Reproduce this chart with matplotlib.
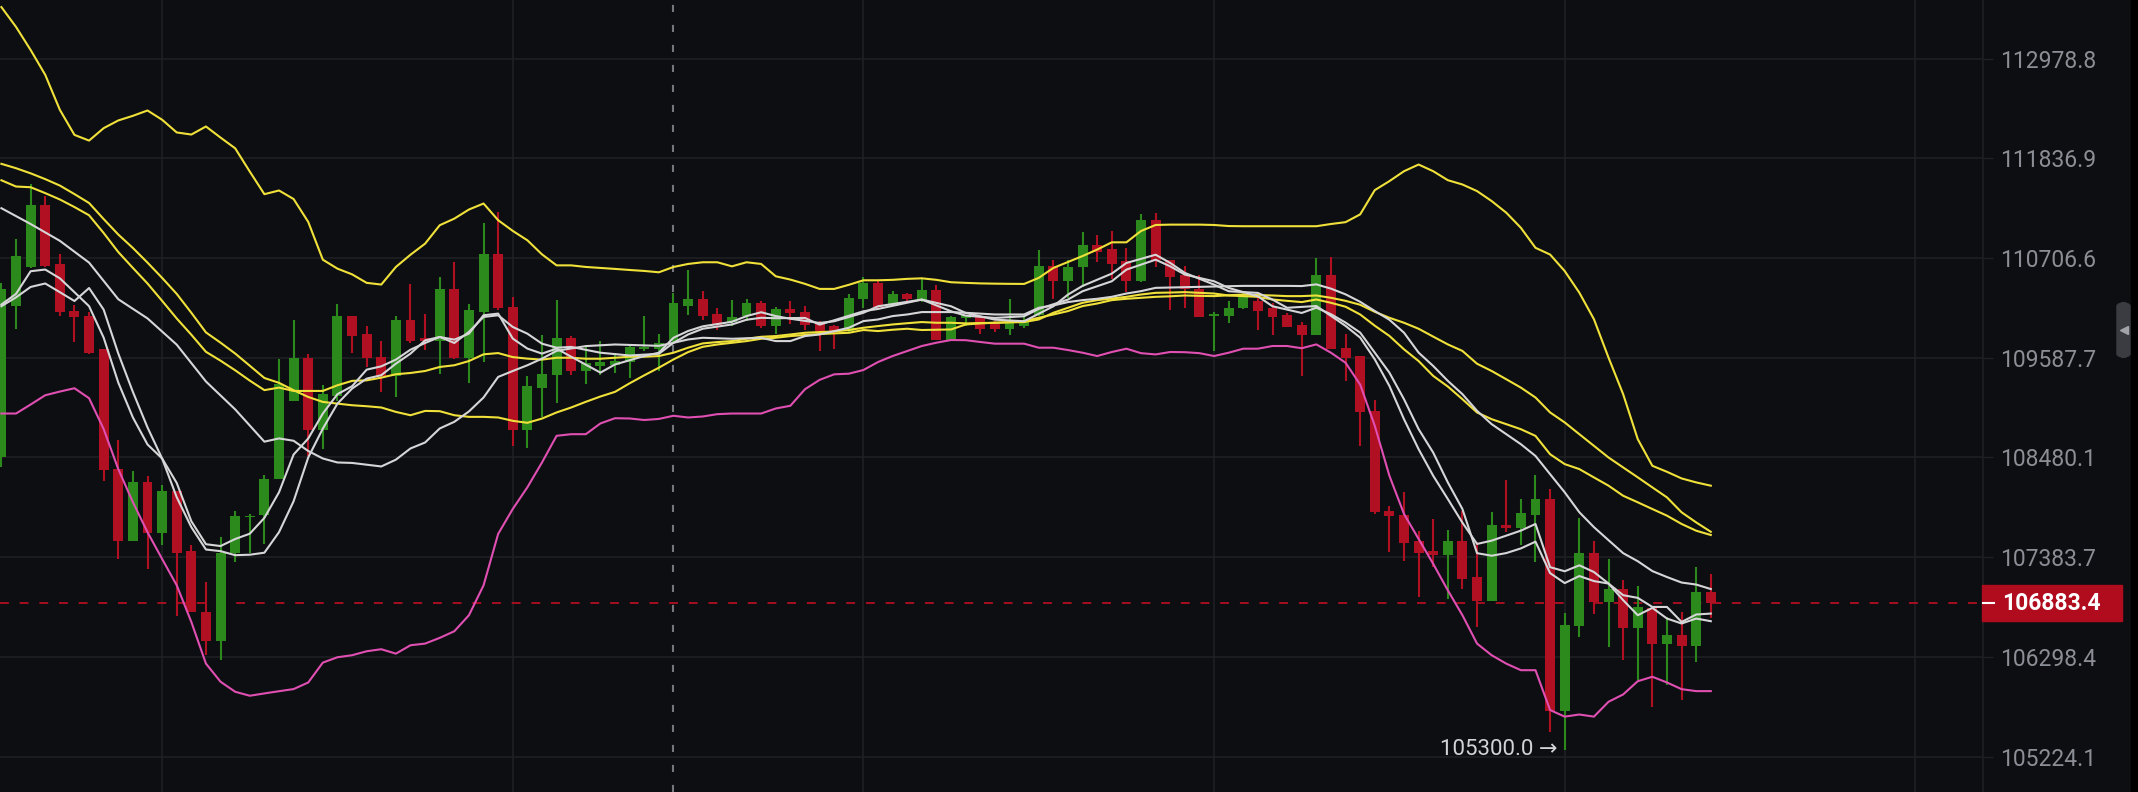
import matplotlib
matplotlib.use("Agg")
import matplotlib.pyplot as plt
from matplotlib.patches import Rectangle, FancyBboxPatch
from matplotlib.lines import Line2D
from matplotlib.ticker import FixedLocator, NullLocator, FuncFormatter
import numpy as np

# ---- candles (BTC-like, 118 bars) ----
opens = [108480, 110170, 110600, 111310, 110640, 110110, 110060, 109680, 108350, 107560,
         108210, 107650, 108110, 107450, 106790, 106470, 107430, 107820, 107850, 108240,
         109110, 109580, 108780, 109160, 110050, 109850, 109600, 109380, 110010, 109810,
         109780, 110360, 109590, 110100, 110750, 110160, 108780, 109250, 109390, 109810,
         109440, 109500, 109510, 109540, 109680, 109690, 109770, 110170, 110240, 110080,
         109990, 110060, 110200, 109940, 110130, 110100, 109970, 109940, 109890, 110250,
         110420, 110170, 110300, 110230, 110350, 109790, 110030, 110060, 109970, 109910,
         109940, 110070, 110620, 110450, 110610, 110850, 110810, 110670, 110450, 111140,
         110690, 110510, 110360, 110050, 110060, 110140, 110220, 110140, 110070, 109950,
         109840, 110510, 109700, 109610, 108990, 107890, 107850, 107560, 107450, 107410,
         107560, 107170, 106910, 107740, 107700, 107850, 108020, 105710, 106630, 107430,
         106890, 107040, 106610, 106830, 106440, 106540, 106420, 107000]
highs = [110420, 110920, 111550, 111410, 110750, 110180, 110100, 109680, 108670, 108330,
         108280, 108180, 108110, 107520, 107110, 107600, 107890, 107860, 108290, 109570,
         110010, 109630, 109280, 110190, 110050, 109940, 109780, 110060, 110410, 110080,
         110490, 110660, 110190, 111100, 111230, 110270, 109380, 109840, 110230, 109830,
         109730, 109770, 109640, 109720, 110060, 109850, 110310, 110570, 110340, 110140,
         110230, 110240, 110220, 110160, 110220, 110170, 110000, 109950, 110300, 110490,
         110450, 110330, 110310, 110470, 110400, 110060, 110070, 110060, 110000, 110240,
         110060, 110800, 110680, 110680, 111000, 110970, 111010, 110820, 111200, 111220,
         110690, 110620, 110510, 110100, 110220, 110330, 110280, 110200, 110090, 109990,
         110710, 110720, 109850, 109610, 109120, 107950, 108100, 107670, 107800, 107680,
         107890, 107550, 107880, 108230, 108020, 108290, 108130, 106770, 107810, 107560,
         107360, 107130, 107070, 106830, 106730, 106790, 107280, 107200]
lows = [108370, 109910, 110590, 110600, 110060, 109760, 109630, 108220, 107360, 107560,
        107250, 107520, 106740, 106790, 106320, 106260, 107330, 107430, 107530, 108240,
        109110, 108500, 108570, 109110, 109640, 109490, 109210, 109150, 109750, 109670,
        109410, 109570, 109310, 109540, 110120, 108610, 108590, 108930, 109080, 109400,
        109290, 109400, 109420, 109360, 109660, 109440, 109740, 110070, 110010, 109900,
        109940, 110000, 109920, 109850, 109970, 109900, 109660, 109690, 109870, 110150,
        110150, 110170, 110200, 110210, 109790, 109790, 109940, 109850, 109880, 109840,
        109920, 110060, 110240, 110260, 110380, 110660, 110470, 110320, 110440, 110610,
        110120, 110150, 110040, 109660, 109980, 110130, 109900, 109840, 109930, 109380,
        109840, 109690, 109330, 108610, 107860, 107440, 107340, 106950, 107280, 106930,
        107040, 106620, 106910, 107660, 107520, 107330, 105490, 105300, 106510, 106760,
        106410, 106260, 106050, 105760, 105990, 105830, 106240, 106720]
closes = [110360, 110730, 111310, 110620, 110100, 110040, 109640, 108340, 107560, 108210,
          107650, 108110, 107430, 106790, 106470, 107430, 107840, 107840, 108240, 109290,
          109580, 108780, 109180, 110050, 109830, 109590, 109380, 110010, 109780, 109770,
          110360, 109590, 110120, 110750, 110140, 108780, 109270, 109410, 109810, 109440,
          109530, 109540, 109550, 109710, 109710, 109750, 110200, 110240, 110060, 109950,
          110040, 110200, 109940, 110130, 110090, 109950, 109890, 109890, 110260, 110420,
          110160, 110300, 110240, 110350, 109790, 110040, 110070, 109910, 109910, 109990,
          109990, 110620, 110450, 110610, 110850, 110780, 110640, 110450, 111140, 110690,
          110490, 110360, 110040, 110080, 110150, 110270, 110110, 110040, 109930, 109840,
          110510, 109690, 109590, 108980, 107880, 107830, 107540, 107430, 107410, 107560,
          107150, 106910, 107740, 107700, 107870, 108020, 105710, 106650, 107430, 106900,
          107040, 106610, 106840, 106440, 106540, 106420, 107000, 106883.4]

# ---- Bollinger bands ----
boll_upper = [113573, 113344, 113078, 112792, 112391, 112104, 112039, 112181, 112269, 112322,
              112383, 112277, 112132, 112108, 112200, 112073, 111951, 111686, 111429, 111471,
              111374, 111115, 110688, 110587, 110523, 110427, 110408, 110606, 110744, 110869,
              111077, 111152, 111255, 111323, 111134, 111013, 110907, 110748, 110624, 110624,
              110606, 110595, 110584, 110572, 110561, 110546, 110606, 110640, 110659, 110659,
              110613, 110659, 110640, 110501, 110464, 110416, 110359, 110359, 110405, 110456,
              110456, 110461, 110472, 110478, 110461, 110434, 110427, 110421, 110418, 110416,
              110415, 110483, 110595, 110662, 110729, 110802, 110884, 110884, 111012, 111080,
              111084, 111084, 111084, 111080, 111068, 111066, 111066, 111066, 111066, 111066,
              111066, 111091, 111112, 111200, 111475, 111577, 111690, 111766, 111690, 111588,
              111539, 111464, 111351, 111219, 111048, 110822, 110746, 110560, 110317, 110019,
              109589, 109182, 108683, 108388, 108322, 108249, 108205, 108169]
boll_lower = [108967, 108967, 109067, 109170, 109211, 109248, 109137, 108794, 108352, 107987,
              107658, 107365, 107077, 106678, 106226, 106030, 105922, 105879, 105904, 105928,
              105951, 106022, 106237, 106295, 106317, 106360, 106382, 106334, 106425, 106443,
              106505, 106577, 106751, 107076, 107639, 107913, 108151, 108425, 108720, 108738,
              108738, 108857, 108915, 108912, 108895, 108907, 108942, 108923, 108934, 108960,
              108967, 108967, 108967, 109023, 109053, 109237, 109341, 109403, 109410, 109451,
              109540, 109607, 109663, 109719, 109756, 109786, 109784, 109764, 109745, 109745,
              109745, 109700, 109700, 109674, 109644, 109607, 109652, 109689, 109639, 109625,
              109652, 109650, 109639, 109607, 109644, 109689, 109689, 109719, 109719, 109694,
              109737, 109644, 109532, 109289, 108831, 108279, 107858, 107584, 107311, 107022,
              106751, 106443, 106317, 106226, 106155, 106155, 105725, 105654, 105677, 105654,
              105814, 105893, 106036, 106084, 106022, 105950, 105929, 105929]

# ---- yellow moving averages ----
ma_slow = [111774, 111724, 111666, 111600, 111527, 111430, 111329, 111147, 110972, 110820,
           110655, 110483, 110303, 110091, 109871, 109756, 109635, 109499, 109362, 109308,
           109226, 109151, 109096, 109077, 109059, 109048, 109034, 108985, 108948, 108996,
           108993, 108948, 108930, 108930, 108923, 108886, 108864, 108911, 108979, 109034,
           109097, 109156, 109208, 109303, 109392, 109477, 109569, 109651, 109710, 109736,
           109755, 109774, 109800, 109811, 109830, 109842, 109853, 109860, 109867, 109898,
           109886, 109901, 109912, 109898, 109901, 109904, 109960, 109972, 109979, 109987,
           109998, 110035, 110072, 110110, 110166, 110195, 110233, 110248, 110259, 110270,
           110276, 110285, 110281, 110278, 110287, 110296, 110290, 110285, 110278, 110278,
           110285, 110259, 110225, 110181, 110102, 110035, 109979, 109912, 109824, 109737,
           109664, 109521, 109440, 109348, 109255, 109145, 108979, 108868, 108738, 108609,
           108480, 108370, 108261, 108150, 108040, 107876, 107765, 107662]
ma_fast = [111587, 111516, 111508, 111441, 111369, 111283, 111190, 110989, 110774, 110595,
           110420, 110225, 110027, 109845, 109654, 109555, 109448, 109333, 109227, 109255,
           109218, 109218, 109218, 109281, 109330, 109336, 109366, 109404, 109418, 109440,
           109485, 109504, 109551, 109626, 109640, 109595, 109578, 109567, 109588, 109588,
           109577, 109577, 109588, 109599, 109599, 109607, 109644, 109700, 109748, 109763,
           109774, 109800, 109822, 109830, 109848, 109867, 109875, 109881, 109898, 109923,
           109942, 109960, 109974, 109987, 109979, 109979, 109972, 109976, 109979, 109983,
           109987, 110016, 110091, 110147, 110203, 110233, 110251, 110270, 110296, 110315,
           110318, 110323, 110315, 110307, 110285, 110278, 110270, 110240, 110225, 110211,
           110240, 110203, 110159, 110072, 109946, 109832, 109682, 109551, 109385, 109267,
           109126, 108979, 108904, 108849, 108793, 108719, 108516, 108407, 108352, 108260,
           108169, 108058, 107986, 107912, 107839, 107748, 107674, 107627]

# ---- white lines (vertices read at these bar indices) ----
mid_idx = [0, 2, 4, 6, 8, 10, 12, 14, 16, 18, 19, 20, 21, 22, 23, 24, 26, 27, 28, 29,
           30, 31, 32, 33, 34, 35, 36, 37, 38, 40, 42, 45, 46, 47, 48, 50, 52, 53, 54, 55,
           56, 58, 59, 60, 61, 62, 63, 65, 66, 68, 70, 71, 72, 73, 74, 75, 76, 77, 78, 79,
           82, 85, 88, 89, 90, 91, 92, 93, 94, 95, 96, 97, 98, 99, 100, 101, 102, 103, 104, 105,
           106, 107, 108, 109, 110, 111, 112, 113, 114, 115, 116, 117]
mid_vals = [111270, 111091, 110901, 110655, 110243, 110028, 109734, 109323, 109013, 108655,
            108691, 108665, 108552, 108469, 108425, 108420, 108381, 108456, 108580, 108646,
            108801, 108875, 108990, 109145, 109374, 109440, 109504, 109578, 109665, 109718,
            109736, 109721, 109755, 109792, 109811, 109800, 109811, 109774, 109774, 109830,
            109848, 109923, 109998, 110016, 110054, 110072, 110099, 110099, 110091, 110072,
            110072, 110147, 110173, 110211, 110233, 110248, 110270, 110307, 110334, 110371,
            110382, 110393, 110393, 110391, 110410, 110362, 110298, 110214, 110111, 110013,
            109868, 109645, 109496, 109330, 109182, 108997, 108849, 108738, 108627, 108497,
            108296, 108096, 107877, 107713, 107570, 107428, 107340, 107232, 107167, 107107,
            107085, 107036]

ma5_idx = list(range(40)) + [41, 42, 44, 45, 46, 47, 48, 50, 51, 52,
                             53, 54, 56, 57, 59, 60, 63, 65, 66, 68,
                             70, 72, 73, 74, 76, 77, 79, 80, 81, 83,
                             84, 86, 87, 88, 90, 91, 92, 93, 94, 95] + list(range(96, 118))
ma5_vals = [110184, 110303, 110558, 110577, 110478, 110322, 110165, 109812, 109311, 108923,
            108624, 108469, 108199, 107778, 107526, 107506, 107583, 107641, 107815, 108096,
            108513, 108690, 108967, 109182, 109270, 109455, 109492, 109567, 109678, 109753,
            109820, 109790, 109857, 110063, 110082, 109802, 109690, 109634, 109690, 109599,
            109422, 109513, 109607, 109644, 109811, 109887, 109939, 109990, 110054, 110097,
            110054, 110024, 109977, 109996, 110091, 110164, 110239, 110164, 110089, 110014,
            109996, 110164, 110295, 110393, 110531, 110651, 110744, 110651, 110539, 110407,
            110333, 110314, 110239, 110147, 110167, 110056, 109944, 109813, 109570, 109274,
            108904, 108572, 108278, 108022, 107762, 107529, 107565, 107620, 107675, 107748,
            107275, 107230, 107295, 107222, 107096, 106969, 106940, 106841, 106841, 106678,
            106759, 106769]

ma10_idx = list(range(40)) + [41, 43, 45, 46, 47, 48, 50, 51, 52, 53,
                              55, 56, 57, 59, 60, 63, 65, 66, 68, 70,
                              71, 73, 74, 76, 77, 79, 80, 81, 83, 84,
                              86, 87, 89, 90, 91, 92, 93, 94, 95] + list(range(96, 118))
ma10_vals = [110165, 110264, 110381, 110420, 110322, 110223, 110369, 110126, 109635, 109207,
             108813, 108469, 108042, 107713, 107468, 107450, 107406, 107411, 107433, 107658,
             107998, 108480, 108800, 109077, 109244, 109355, 109393, 109522, 109634, 109782,
             109820, 109753, 109877, 110044, 110063, 109932, 109857, 109745, 109700, 109709,
             109644, 109613, 109632, 109755, 109848, 109912, 109960, 110013, 110035, 110030,
             110033, 109958, 110007, 110108, 110134, 110239, 110108, 110059, 110033, 110052,
             110134, 110239, 110333, 110445, 110576, 110688, 110613, 110520, 110445, 110370,
             110276, 110164, 110089, 110148, 110075, 109981, 109869, 109645, 109422, 109126,
             108794, 108534, 108205, 107912, 107428, 107400, 107429, 107480, 107554, 107210,
             107101, 107178, 107123, 107096, 106915, 106751, 106831, 106715, 106661, 106715,
             106686]

price_ticks = [105224.1, 106298.4, 107383.7, 108480.1, 109587.7, 110706.6, 111836.9, 112978.8]
time_grid = [11, 35, 59, 83, 107, 131]
crosshair_bar = 46

BG = "#0d0e11"
GRID = "#1f2125"
GREEN = "#2b8a1b"
RED = "#b10f22"
YELLOW = "#f0e13a"
WHITE = "#d6d6d8"
PINK = "#e04fb2"
TICK = "#8b8e95"
FONT = ["Roboto", "DejaVu Sans"]

W, H = 2138, 792
fig = plt.figure(figsize=(W / 100, H / 100), dpi=100)
fig.patch.set_facecolor(BG)
ax = fig.add_axes([0, 0, 1983 / W, 1])
ax.set_facecolor(BG)

x = np.arange(len(closes))
o = np.array(opens, float)
c = np.array(closes, float)
hi = np.array(highs, float)
lo = np.array(lows, float)
colors = np.where(c >= o, GREEN, RED)

ax.vlines(x, lo, hi, colors=colors, lw=1.5, zorder=3)
b_lo = np.minimum(o, c)
b_hi = np.maximum(o, c)
b_h = np.maximum(b_hi - b_lo, b_lo * 0.00016)
ax.bar(x, b_h, bottom=b_lo, width=0.68, color=colors, linewidth=0, zorder=3)

ax.plot(x, boll_upper, color=YELLOW, lw=1.5, zorder=4)
ax.plot(x, ma_slow, color=YELLOW, lw=1.5, zorder=4)
ax.plot(x, ma_fast, color=YELLOW, lw=1.5, zorder=4)
ax.plot(mid_idx, mid_vals, color=WHITE, lw=1.5, zorder=5)
ax.plot(ma5_idx, ma5_vals, color=WHITE, lw=1.5, zorder=5)
ax.plot(ma10_idx, ma10_vals, color=WHITE, lw=1.5, zorder=5)
ax.plot(x, boll_lower, color=PINK, lw=1.5, zorder=5)

ax.axvline(crosshair_bar, color="#74777e", lw=1.5, dashes=(3.4, 6.2), zorder=2)
ax.axhline(closes[-1], color=RED, lw=1.3, dashes=(4.9, 6.0), zorder=2)

ax.set_yscale("log")
ax.set_xlim(-0.096, 135.63)
ax.set_ylim(104846, 113655)
ax.yaxis.set_major_locator(FixedLocator(price_ticks))
ax.yaxis.set_minor_locator(NullLocator())
ax.yaxis.set_major_formatter(FuncFormatter(lambda v, p: f"{v:.1f}"))
ax.yaxis.tick_right()
ax.set_xticks(time_grid)
ax.tick_params(axis="x", length=0, labelbottom=False)
ax.tick_params(axis="y", which="major", length=7.5, width=1, color=GRID, pad=5,
               labelsize=16.5, labelcolor=TICK)
for lab in ax.get_yticklabels():
    lab.set_family(FONT)
ax.grid(True, color=GRID, lw=1.1)
ax.set_axisbelow(True)
for side in ["top", "left", "bottom"]:
    ax.spines[side].set_visible(False)
ax.spines["right"].set_color(GRID)
ax.spines["right"].set_linewidth(1.1)

# lowest low marker
ax.annotate(f"{lows[107]:.1f} \u2192", xy=(107, lows[107]), xytext=(-5, 0),
            textcoords="offset points", ha="right", va="center",
            color="#d2d3d6", fontsize=16, family=FONT, zorder=6)

# last price tag on the axis
yp = ax.transData.transform((0, closes[-1]))[1]
fig.add_artist(Rectangle((1982 / W, (yp - 18) / H), 140 / W, 36 / H,
                         transform=fig.transFigure, color="#b00c1e", zorder=5))
fig.add_artist(Line2D([1983 / W, 1994 / W], [yp / H, yp / H], color="white",
                      lw=1.5, transform=fig.transFigure, zorder=6))
fig.text(2002 / W, yp / H, f"{closes[-1]:.1f}", color="white", fontsize=16.5,
         fontweight="bold", family=FONT, ha="left", va="center", zorder=6)

# right edge strip and collapse handle
fig.add_artist(Rectangle((2131 / W, 0), 7 / W, 1, transform=fig.transFigure,
                         color="#000000", zorder=5))
fig.add_artist(FancyBboxPatch((2117 / W, (H - 357) / H), 13 / W, 54 / H,
                              boxstyle="round,pad=0,rounding_size=0.004",
                              transform=fig.transFigure, color="#3a3c42", zorder=6))
fig.add_artist(Line2D([2123.5 / W], [(H - 330) / H], marker="<", ms=6, color="#a2a4aa",
                      lw=0, transform=fig.transFigure, zorder=7))

fig.savefig("out.png", dpi=100, facecolor=BG)
